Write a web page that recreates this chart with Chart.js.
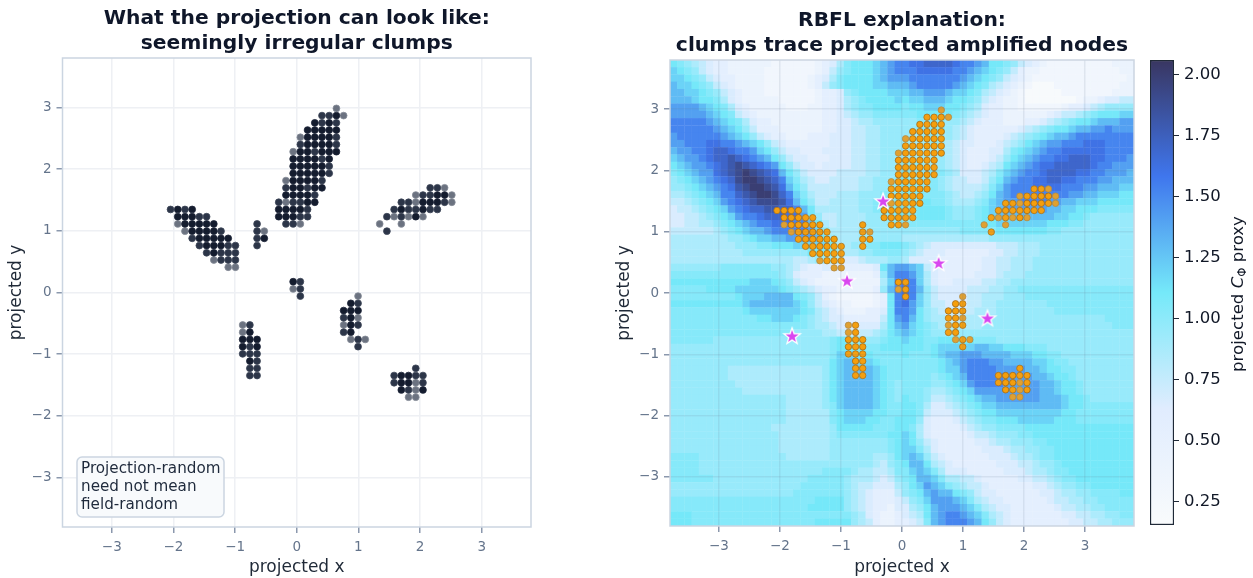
<!DOCTYPE html>
<html>
<head>
<meta charset="utf-8">
<script src="https://cdn.jsdelivr.net/npm/chart.js@4/dist/chart.umd.min.js"></script>
<style>
  html, body { margin: 0; padding: 0; background: #fff; }
  #wrap { position: relative; width: 1253px; height: 578px; overflow: hidden; }
  canvas { position: absolute; top: 0; }
</style>
</head>
<body>
<div id="wrap">
  <canvas id="chartLeft" width="540" height="578" style="left:0"></canvas>
  <canvas id="chartRight" width="535" height="578" style="left:610px"></canvas>
  <canvas id="chartBar" width="108" height="578" style="left:1145px"></canvas>
</div>
<script>
// Data

const tickValues = [-3, -2, -1, 0, 1, 2, 3];
const barTicks = [0.25, 0.5, 0.75, 1, 1.25, 1.5, 1.75, 2];
const leftTitle = ["What the projection can look like:", "seemingly irregular clumps"];
const rightTitle = ["RBFL explanation:", "clumps trace projected amplified nodes"];
const noteLines = ["Projection-random", "need not mean", "field-random"];

// nodes sit on a regular lattice in the picture, this is its pitch
const nodePitch = 0.117;

// each row: y, then the x of every node on that row
const nodesDark = [
  [2.87,.64],[2.75,.29,.53],[2.63,.18,.29,.41,.53,.64],[2.51,.18,.29,.41,.53],[2.40,.18,.29,.41,.53],
  [2.28,.06,.18,.41,.53,.64],[2.16,-.06,.06,.18,.29,.53],[2.05,-.06,.06,.18,.29,.41],[1.93,-.06,.06,.18,.29,.41],
  [1.81,-.06,.06,.18,.29],[1.70,-.06,.06,.29,.41],[1.58,-.18,-.06,.06,.18],[1.46,.18,.29],[1.35,-.29,-.18,-.06,.06],[1.23,-.29,-.18,-.06],
  [1.58,2.28,2.40],[1.46,2.05,2.16,2.28],[1.35,1.70,2.05],[1.23,1.93],
  [1.35,-1.93,-1.70],[1.23,-1.93,-1.81,-1.70],[1.11,-1.81,-1.70,-1.58,-1.46,-1.35],[.99,-1.70,-1.58,-1.46,-1.35],
  [.88,-1.58,-1.46,-1.35,-1.23,-1.11],[.76,-1.46,-1.35,-1.23],[.64,-1.35],
  [.88,-.53],[.18,-.06],
  [-.64,-.76],[-.76,-.88,-.76,-.64],[-.88,-.88,-.64],[-1.11,-.76],
  [-.18,.88],[-.29,.76,.88,.99],[-.41,.88],[-.53,.88],[-.64,.88],
  [-1.35,1.70,1.81],[-1.46,1.70,1.81],[-1.58,1.70,2.05],
];
const nodesMid = [
  [2.87,.41,.53],[2.75,.41,.64],[2.51,.64],[2.40,.06,.64],[2.28,.29],[2.16,.41],[2.05,.53],[1.93,.53],[1.81,.41],
  [1.70,-.18,.18],[1.58,.29],[1.46,-.29,-.06,.06],[1.35,.18],[1.23,.06,.18],[1.11,-.18,-.06],
  [1.70,2.16,2.28],[1.58,2.05,2.16],[1.46,1.70,1.81,2.40],[1.35,1.58,1.81,1.93,2.16,2.28],[1.23,1.46,1.70],[.99,1.46],
  [1.35,-2.05,-1.81],[1.23,-1.58,-1.46],[.99,-1.23],[.88,-1.70],[.76,-1.58,-1.11,-.99],[.64,-1.46,-1.23,-1.11,-.99],[.53,-1.23,-1.11,-.99],
  [1.11,-.64],[.99,-.64],[.88,-.64],[.76,-.64],
  [.18,.06],[.06,.06],[-.06,.06],
  [-.53,-.76],[-.88,-.76],[-.99,-.88,-.76,-.64],[-1.11,-.64],[-1.23,-.76,-.64],[-1.35,-.76,-.64],
  [-.18,.99],[-.41,.76],[-.53,.99],[-.64,.76],[-.76,.99],[-.88,.99],
  [-1.23,1.93],[-1.35,1.58,1.93,2.05],[-1.46,1.58,2.05],[-1.58,1.81],
];
const nodesLight = [
  [2.98,.64],[2.87,.76],[2.51,.06],[2.28,-.06],[1.81,-.18],[1.46,-.18],[1.11,.06],
  [1.70,2.40],[1.58,1.93,2.51],[1.46,1.93,2.51],[1.23,1.58,1.81,2.05],[1.11,1.35,1.70],
  [1.11,-1.93],[.99,-1.81],[.53,-1.35],[.41,-1.11,-.99],
  [.99,-.53],[.06,-.06],[-.53,-.88],[-.64,-.88],
  [-.06,.99],[-.41,.99],[-.53,.76],[-.76,.88,1.11],
  [-1.46,1.93],[-1.58,1.93],[-1.70,1.81,1.93],
];

const starsX = [-0.31, 0.6, -0.9, -1.8, 1.4];
const starsY = [1.5, 0.49, 0.2, -0.7, -0.41];

// projected field, 64 x 64, top row first. Letters index into fieldLevels
const fieldLevels = [0.2, 0.3, 0.42, 0.55, 0.66, 0.76, 0.86, 0.95, 1.03, 1.11, 1.2, 1.3, 1.41, 1.52, 1.61, 1.7, 1.8, 1.9, 2.0];
const fieldRows = [
  "jihgfedd ccccccbb bbbbcdeg ijjjklmn nooppppo nnmljjih fedcbbbb bbbbbccc",
  "kjihfedd cccccbbb bbbbcdfh ijjjklmn nnooooon nmlkjihf dccbbbbb bbbbbbcc",
  "kkjihfed dccccbbb bbbcdegi jjjjklmm mnnnnnnn mlkjihfe dcbbbbbb bbbbbbbc",
  "lkkjihfe dccccbbb bbbcdfhi jjjjkkll lmnnnnnm lkjigfed cbaaabbb bbbbbbcc",
  "llkkjihf edcccbbb bbbbcdde hijjjjkk kllmmmlk kjigfedc baaaaabb bbbbbccc",
  "lllkjjig edcccccb bbbbcdde ghijjjjk jkklllkj jihfedcc baaaaaaa bccdeeff",
  "mmmmlkji gedccccc bbbccdde ghiijjjj ijjkkkjj ihgeddcc bbbbbbcd defghhhh",
  "mmmmmlkj ifedcccc cccccdde fghhiiii iijjjjji hgfeddcc ccccdeff ghijjjkk",
  "nnnnnmlk jigeddcc cccccdde efgghhhh hhiiiihh gfedddcc cddefghi jjklllmm",
  "nnnnnnml kjhfdddc cccccdde effgghhh hhiiiihg fedddddd efghijjk llmmnmmm",
  "mnnnnnnm lkjhfedd cccdddee effgghhh hhhiihhg feddddef ghijkllm nnnnnnnn",
  "mmnnnoon nmlkjhfe ddddddee effgghhh hhhhihgf eedddefg hjklmmnn nooonnnn",
  "lmmnnopp onnmkjhf eedddeee effgghhh hhhhhhgf edddeegi jklmnnoo oooonnnn",
  "klmmnopp qponmljh feedddee effgghhh hhhhhhgf edddefhj klmnnoop ppoonnnm",
  "jklmmnop qrqponmj hfeedeee effgghhh iiihhhgf eddefgjk lmnooppp pponnmmm",
  "ijklmmop qrsrqpol jhfeeeef fffgghhh jiiiiihg eeefgikl mnnopppp oonnmmml",
  "hijklmno prssrqpn kigfeeff ffgghhhi jiiiihgf feefhjlm nnooppoo nnnmmlll",
  "hhijklmn oqrssrqo ljhfffff ffgghhii jjiiihgf fffgikmn nnoooonn nmmlllkk",
  "gghijkln npqrssrp nkigfffg gghhhiii jjjiiihg ffghjlmn nnnnnnnm mllkkkjj",
  "ffghijkm nopqrrrq oljhffgg gghhiiij jjjjiihg gghiklmm nnnnmmll kkkjjjjj",
  "effghijk mnoppqqp pnljgggg gghhiiij jjjjjjih hhijklmm mmmmllkk jjjiiiii",
  "eeffghij kmnnoppp oomjhffg ggghhiij jjjjjjih hhijklll lllllkkj jihhhhhh",
  "eeffgghi jklmnnoo onnljgfg ggghhhii iiiiiiii iiijjkkk kkkkjjji ihhhhhhh",
  "ffffffgh ijkllmnn nnnmkigg gghhhhhh hhhhhhhh iiiiijjj jjjjiihh hhhhhhhh",
  "gggggggg hhijkkll mmmmljhg gghhhhhh gggggggg gggghhhh hhhhhhhh hhhhhhhh",
  "gggggggg ghhhiijj jkkkkkjg ghhiijjj ihgfeeee eeeeefff ggghhhhh hhhhhhhh",
  "gggggggg gghhhhhh hhhjjjjh gghhiiii hgfeeedd ddddeeff ggghhhhh hhhhhhhh",
  "gggggggg gggggggg gffghhhg eefggghh geeeeddd dddeeffg gghhhhhh hhhhhhhh",
  "hhhhhhhi iiiiiihh gfeddeee ddddejlm mlkfeddd dddeeffg gghhhhhh hhhhhhhh",
  "iiiiiiii iiiiiiih gedddccc ccccdhln nmkgeddd ddeeefgg ghhhhhhh hhhhhhhh",
  "jjjjjjjj jjjkkkji hfedcccc cccccgkn onkgedde eeeffggh hhhhhhhh hhhhhhhh",
  "iiiiijjj jkkkkkkj ihgfeddc ccccdhln onlhfeee efffgghh iiiiiiii iiiiiiii",
  "iiiiiiii ijkkklll ljihfdcb bbbbcdjn onkhfeee effggghh hiiiiiii iiiiiiii",
  "jjjjjjjj jjklllll lkjhfedc cbbbcdjn omkhffee effgghhh hhhhiiii iiiiiiii",
  "iiiiiiii iijkkkkk kkjigfed cccddejn nmjhgfff ffggghhh hhhhhiii iiiiiiii",
  "iiiiiiii iiiijjkk kjihgfee dddddfjm nljhggff gggghhhh hhhhhhhh hhhhiiii",
  "iiiiiiii iiiiiiii iiihggfe eeeeegjl mkjihggg ggghhhhh hhhhhhhh hhhhhiii",
  "iiiiiiii iiiiiiii ihhhhggf ffffghjk lkjihhhh hhhhhhhh hhhhhhhh hhhhhhhh",
  "iiiiiihh hhhhhhhh hhhhhhij jiihhijj kjjiijjj jjiiihhh hhhhhhhh hhhhhhhh",
  "hhhhhhhh hhhhhhhh hhhhhhij jjjiijjj jjjijkkk kkllkkjj jiiihhhh hhhhhhhh",
  "hhhhhhhh hhhhhhhh hhhhhhik kkjjiiii jiiijkll mmmllllk kkjjiihh hhhhhhhh",
  "hhhhhhhh hhhhhhhh hhhhhhjk llkkjiii iiiiijkl mnnnmmll llkkjiih hhhhhhhh",
  "hhhhhhhh gggggggg ggggghjk llllkjii iiiiijkk mnnnnmmm mllkjjii hhhhhhhh",
  "hhhhhhhh gggggggg ggggghjk llllkjii iiiihijk lnnnnnmm mmllkjji hhhhhhhh",
  "hhhhhhhh hggggggg ggggghjk llllkjih iiiihhij kmnnnnmm mmmllkjj ihhhhhhh",
  "hhhhhhhh hhgggggg ggggghjk llllkjih iiihgghi jkmmmmmm mmmllkjj ihhhhhhh",
  "hhhhhhhh hhhhhhhh ggggghjk llllkjih jiihffgh ijkllmmm mmmlllkj jihhhhhh",
  "hhhhhhhh hhhhhhhh ggggghik llllkjii jjigeefg hijkklll llllllkj jiiiiiii",
  "hhhhhhhh hhhhhhhh ggggggij kkkkjjii jjifeeef ghijjkkk kkkkkkjj iiiiiiii",
  "hhhhhhhh hhhhhhhh ggggggij kkkjjiij jjheddde fghiijjj kkkkkjjj iiiiiiii",
  "hhhhhhhh hhhhhhgg gggggghj jjjjiiij jigedddd efghhiii ijjjjjjj jjjjjjjj",
  "hhhhhhhh hhhhhhhg gggggghi iiiiiijj kjgedddd deffghhh iijjjjjj jjjjjjjj",
  "hhhhhhhh hhhhhhhg gggggghh hhhhhhij kjhfeddd ddeefggh hhiijjjj jjjjjjjj",
  "hhhhhhhh hhhhhhhg gggggghh hhhhhhij kkigeddd dddeeefg ghhiijjj jjjjjjjj",
  "iiiihhhh hhhhhhhh gggggghh hhhhgghj klkhfedd ddddeeef gghiijjj jjjjjjjj",
  "iiiihhhh hhhhhhhh hhhhhhhh hhhhgfhi jlljgfed dddddeee ffghhijj jjjjjjjj",
  "iiiihhhh hhhhhhhh hhhhhiii ihggffgi iklkigee edddddee efgghiij jjjjjjjj",
  "iiiiiihh hhhhhhhh hhhiiiii hgggfefh ijllkigg ffeddddd eeffghii jjjjjjjj",
  "hhhhhhhh hhhhhhhh hhiiiiii hgffeeeg hjkmlkih gffedddd ddeefghh iijjjjjj",
  "hhhhhhhh hhhhhhhh hiiiiiii hgfedddf hijlmllj ihfeeddd dddeefgg hhiiiijj",
  "iiiiiiii iiiiiiii iiiijjjj hgfeddde fhikmmml kigfeedd ddddeffg ghhiiiii",
  "iiiiiiii iiiiiiii iiijjjjj hgfeddce eghjlmmm lkigfeed dddddeff gghhiiii",
  "jjjiiiii iiiiiiii iiiiiiii ihgedccd efgjlmnn mlkigfed ddddddee ffgghhii",
  "jjjiiiii iiiiiiii iiiijjjj jhgfdccd defilmnn nmljhfed ddddddde effgghhh",
];

// colour ramp of the field, evenly spaced between fieldMin and fieldMax
const rampColors = ["#f9fbfc", "#e0ecfe", "#75e9f9", "#3f76ed", "#393661"];
const fieldMin = 0.155;
const fieldMax = 2.06;
const axisLimit = 3.8;
const cellStep = (2 * axisLimit) / 64;

function hexToRgb(hex) {
  return [1, 3, 5].map((i) => parseInt(hex.slice(i, i + 2), 16));
}

function rampColor(value) {
  const t = Math.min(Math.max((value - fieldMin) / (fieldMax - fieldMin), 0), 1) * (rampColors.length - 1);
  const i = Math.min(Math.floor(t), rampColors.length - 2);
  const a = hexToRgb(rampColors[i]);
  const b = hexToRgb(rampColors[i + 1]);
  const f = t - i;
  return "rgb(" + a.map((c, k) => Math.round(c + (b[k] - c) * f)).join(",") + ")";
}

// the readings are rounded to two decimals, put them back on the lattice
const snapNode = (v) => (Math.round(v / nodePitch - 0.5) + 0.5) * nodePitch;

function rowsToPoints(rows) {
  const points = [];
  rows.forEach((row) => {
    row.slice(1).forEach((x) => points.push({ x: snapNode(x), y: snapNode(row[0]) }));
  });
  return points;
}

const fieldPoints = [];
const fieldColors = [];
fieldRows.forEach((row, r) => {
  const letters = row.replace(/ /g, "");
  for (let c = 0; c < letters.length; c++) {
    fieldPoints.push({
      x: -axisLimit + (c + 0.5) * cellStep,
      y: axisLimit - (r + 0.5) * cellStep,
    });
    fieldColors.push(rampColor(fieldLevels[letters.charCodeAt(c) - 97]));
  }
});

const starPoints = starsX.map((x, i) => ({ x: x, y: starsY[i] }));

function makeStar() {
  const size = 22;
  const star = document.createElement("canvas");
  star.width = size;
  star.height = size;
  const c = star.getContext("2d");
  c.beginPath();
  for (let i = 0; i < 10; i++) {
    const r = i % 2 === 0 ? 8.6 : 3.5;
    const a = -Math.PI / 2 + (i * Math.PI) / 5;
    c.lineTo(size / 2 + r * Math.cos(a), size / 2 + 0.6 + r * Math.sin(a));
  }
  c.closePath();
  c.fillStyle = "#d946ef";
  c.fill();
  c.strokeStyle = "#ffffff";
  c.lineWidth = 1.3;
  c.stroke();
  return star;
}

Chart.defaults.font.family = "'DejaVu Sans'";
Chart.defaults.animation = false;

const signedTick = (v) => (v < 0 ? "\u2212" + Math.abs(v) : String(v));

function axis(label, fit, gridColor, gridZ, titlePad, tickPad) {
  return {
    type: "linear",
    min: -axisLimit,
    max: axisLimit,
    afterBuildTicks: (s) => {
      s.ticks = tickValues.map((v) => ({ value: v }));
    },
    ticks: { color: "#64748b", font: { size: 13.5 }, padding: tickPad, maxRotation: 0, callback: signedTick },
    grid: { color: gridColor, lineWidth: 1.5, tickColor: "#8b98ad", tickLength: 6, tickWidth: 1.5, z: gridZ },
    border: { display: false },
    title: { display: true, text: label, color: "#1f2937", font: { size: 17 }, padding: titlePad },
    afterFit: fit,
  };
}

const framePlugin = {
  id: "frame",
  afterDraw(chart) {
    const a = chart.chartArea;
    chart.ctx.save();
    chart.ctx.strokeStyle = "#cbd5e1";
    chart.ctx.lineWidth = 1.5;
    chart.ctx.strokeRect(a.left, a.top, a.right - a.left, a.bottom - a.top);
    chart.ctx.restore();
  },
};

const notePlugin = {
  id: "note",
  afterDraw(chart) {
    const c = chart.ctx;
    c.save();
    c.beginPath();
    c.roundRect(77, 457, 147, 60, 5);
    c.fillStyle = "#f8fafc";
    c.fill();
    c.strokeStyle = "#cbd5e1";
    c.lineWidth = 1.5;
    c.stroke();
    c.fillStyle = "#1e293b";
    c.font = "15.2px 'DejaVu Sans'";
    c.textBaseline = "middle";
    noteLines.forEach((line, i) => c.fillText(line, 81, 469 + i * 18));
    c.restore();
  },
};

// Left Chart

new Chart(document.getElementById("chartLeft"), {
  type: "scatter",
  data: {
    datasets: [
      { data: rowsToPoints(nodesDark), backgroundColor: "#141c2e", borderColor: "#1d2538" },
      { data: rowsToPoints(nodesMid), backgroundColor: "#2c3548", borderColor: "#3c4557" },
      { data: rowsToPoints(nodesLight), backgroundColor: "#6b7280", borderColor: "#858b97" },
    ],
  },
  options: {
    responsive: false,
    layout: { padding: { right: 9 } },
    elements: { point: { radius: 3.4, borderWidth: 0.8 } },
    plugins: {
      legend: { display: false },
      tooltip: { enabled: false },
      title: {
        display: true,
        fullSize: false,
        text: leftTitle,
        color: "#0f172a",
        font: { size: 20.25, weight: "bold", lineHeight: 1.2 },
        padding: { top: 7, bottom: 2.4 },
      },
    },
    scales: {
      x: axis("projected x", (s) => { s.height = 51; }, "#eef0f4", -1, { top: 0, bottom: 0 }, 6),
      y: axis("projected y", (s) => { s.width = 62.5; }, "#eef0f4", -1, { top: 6, bottom: 0 }, 5),
    },
  },
  plugins: [framePlugin, notePlugin],
});

// Right Chart

new Chart(document.getElementById("chartRight"), {
  type: "scatter",
  data: {
    datasets: [
      { data: starPoints, pointStyle: makeStar(), pointRadius: 11, borderWidth: 0 },
      { data: rowsToPoints(nodesDark), backgroundColor: "#f59e0b", borderColor: "#a16a1a", pointRadius: 3.2, borderWidth: 0.8 },
      { data: rowsToPoints(nodesMid), backgroundColor: "#f49f10", borderColor: "#a8721f", pointRadius: 3.2, borderWidth: 0.8 },
      { data: rowsToPoints(nodesLight), backgroundColor: "#e0a030", borderColor: "#b08a4a", pointRadius: 3.2, borderWidth: 0.8 },
      { data: fieldPoints, backgroundColor: fieldColors, pointStyle: "rect", pointRadius: 5.4, borderWidth: 0 },
    ],
  },
  options: {
    responsive: false,
    layout: { padding: { right: 9 } },
    plugins: {
      legend: { display: false },
      tooltip: { enabled: false },
      title: {
        display: true,
        fullSize: false,
        text: rightTitle,
        color: "#0f172a",
        font: { size: 20.25, weight: "bold", lineHeight: 1.2 },
        padding: { top: 9, bottom: 2.4 },
      },
    },
    scales: {
      x: axis("projected x", (s) => { s.height = 52; }, "rgba(100,116,139,0.13)", 1, { top: 0, bottom: 0 }, 6),
      y: axis("projected y", (s) => { s.width = 60; }, "rgba(100,116,139,0.13)", 1, { top: 4, bottom: 0 }, 5),
    },
  },
  plugins: [framePlugin],
});

// Colorbar

const barTitlePlugin = {
  id: "barTitle",
  afterDraw(chart) {
    const c = chart.ctx;
    const parts = [
      { text: "projected ", font: "16.6px 'DejaVu Sans'", dy: 0 },
      { text: "C", font: "italic 16.6px 'DejaVu Sans'", dy: 0 },
      { text: "\u03A6", font: "11.6px 'DejaVu Sans'", dy: 2.5 },
      { text: " proxy", font: "16.6px 'DejaVu Sans'", dy: 0 },
    ];
    c.save();
    c.translate(93, 294);
    c.rotate(-Math.PI / 2);
    c.fillStyle = "#111827";
    c.textBaseline = "alphabetic";
    let total = 0;
    parts.forEach((p) => {
      c.font = p.font;
      total += c.measureText(p.text).width;
    });
    let x = -total / 2;
    parts.forEach((p) => {
      c.font = p.font;
      c.fillText(p.text, x, 5 + p.dy);
      x += c.measureText(p.text).width;
    });
    c.restore();
  },
};

new Chart(document.getElementById("chartBar"), {
  type: "bar",
  data: {
    labels: [""],
    datasets: [
      {
        data: [[fieldMin, fieldMax]],
        barPercentage: 1,
        categoryPercentage: 1,
        borderColor: "#1f2937",
        borderWidth: 1.5,
        borderSkipped: false,
        backgroundColor: (ctx) => {
          const area = ctx.chart.chartArea;
          if (!area) return "#75e9f9";
          const g = ctx.chart.ctx.createLinearGradient(0, area.bottom, 0, area.top);
          rampColors.forEach((col, i) => g.addColorStop(i / (rampColors.length - 1), col));
          return g;
        },
      },
    ],
  },
  options: {
    responsive: false,
    layout: { padding: { left: 5, top: 60, bottom: 53 } },
    plugins: { legend: { display: false }, tooltip: { enabled: false } },
    scales: {
      x: { display: false },
      y: {
        position: "right",
        min: fieldMin,
        max: fieldMax,
        afterBuildTicks: (s) => {
          s.ticks = barTicks.map((v) => ({ value: v }));
        },
        afterFit: (s) => { s.width = 79; },
        ticks: { color: "#111827", font: { size: 16.5 }, padding: 5, callback: (v) => v.toFixed(2) },
        grid: { drawOnChartArea: false, tickColor: "#1f2937", tickLength: 5, tickWidth: 1 },
        border: { display: false },
      },
    },
  },
  plugins: [barTitlePlugin],
});
</script>
</body>
</html>
